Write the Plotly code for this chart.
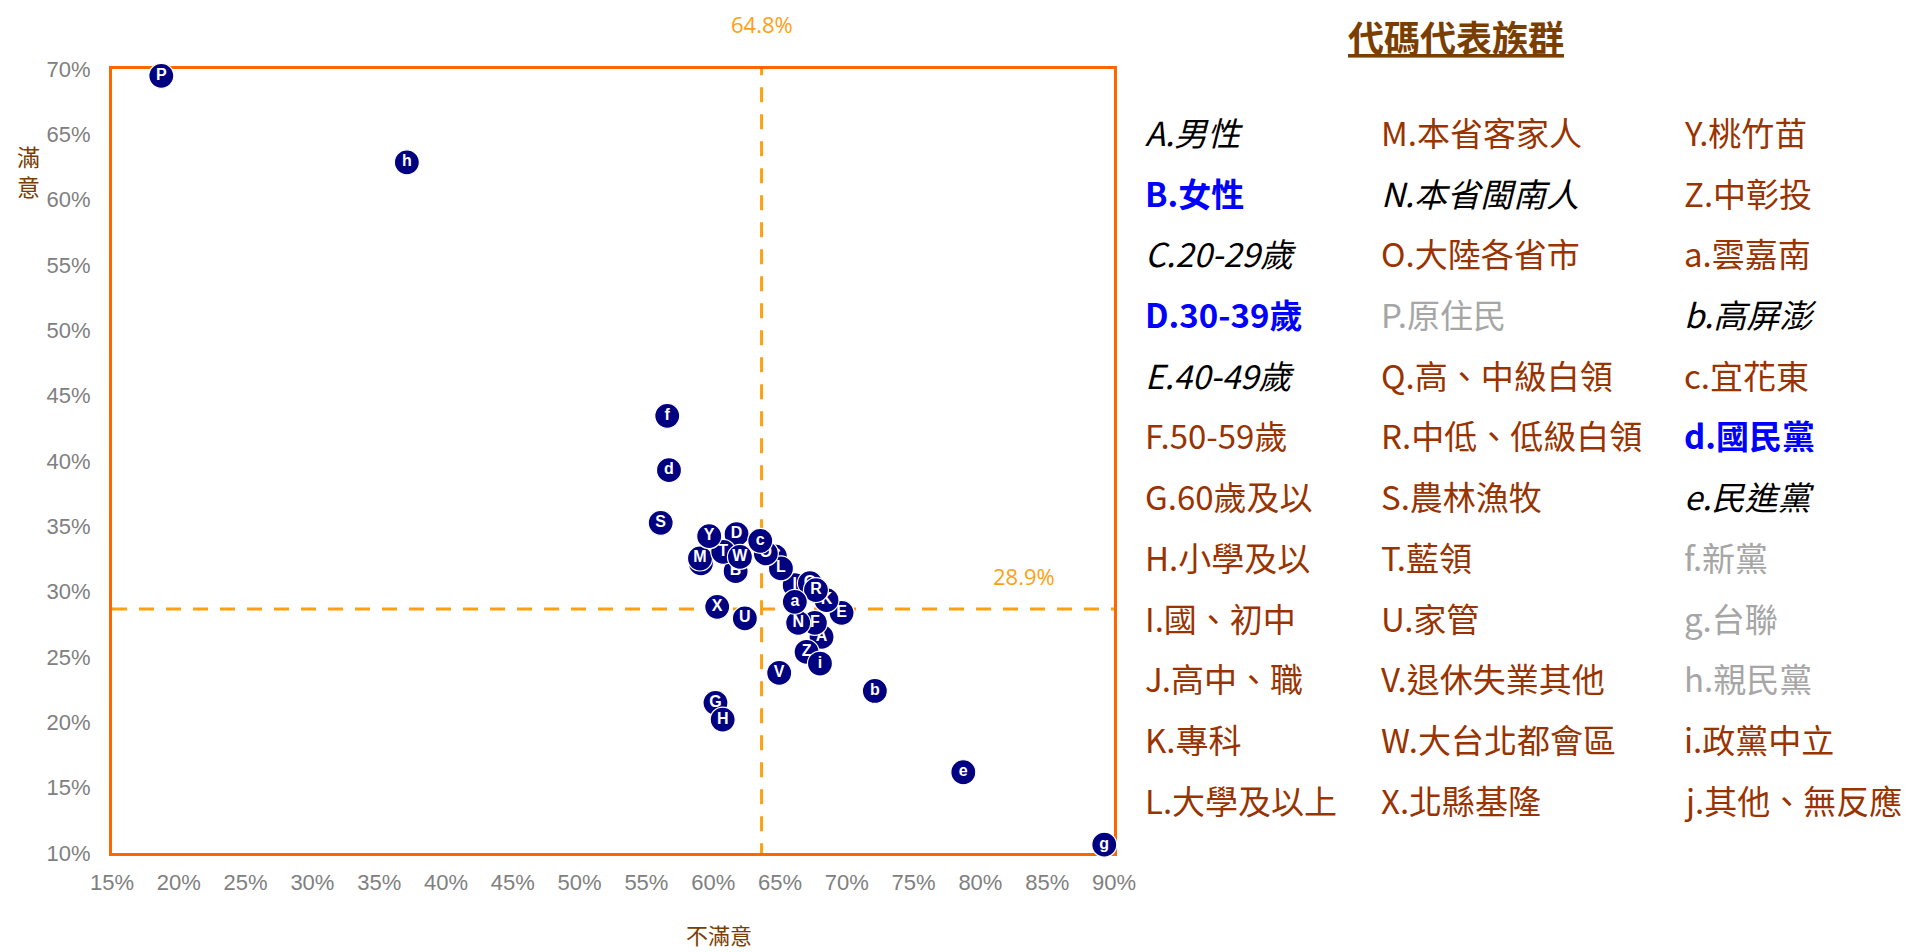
import plotly.graph_objects as go

# ---------------- data ----------------
codes = ["A", "B", "C", "D", "E", "F", "G", "H", "I", "J", "K", "L", "M",
         "N", "O", "P", "Q", "R", "S", "T", "U", "V", "W", "X", "Y", "Z",
         "a", "b", "c", "d", "e", "f", "g", "h", "i"]
dissatisfied = [68.11, 61.68, 64.62, 61.75, 69.61, 67.61, 60.17, 60.71, 66.10, 59.08, 68.48, 65.07, 59.01,
                66.36, 63.94, 18.69, 67.24, 67.69, 56.07, 60.75, 62.37, 64.94, 62.00, 60.30, 59.70, 66.99,
                66.11, 72.10, 63.52, 56.69, 78.72, 56.56, 89.27, 37.07, 67.99]
satisfied = [26.54, 31.57, 32.70, 34.40, 28.38, 27.61, 21.49, 20.21, 30.50, 32.16, 29.35, 31.78, 32.54,
             27.61, 32.93, 69.48, 30.65, 30.12, 35.27, 33.05, 27.95, 23.78, 32.66, 28.84, 34.25, 25.39,
             29.22, 22.40, 33.89, 39.30, 16.18, 43.46, 10.64, 62.86, 24.50]

ref_x = 63.62          # position of vertical reference line
ref_x_label = "64.8%"
ref_y = 28.68          # position of horizontal reference line
ref_y_label = "28.9%"

x_range = [15, 90]
y_range = [10, 70]
x_ticks = list(range(15, 91, 5))
y_ticks = list(range(10, 71, 5))
x_tick_labels = [f"{v}%" for v in x_ticks]
y_tick_labels = [f"{v}%" for v in y_ticks]

legend_title = "代碼代表族群"
legend_col1 = ["A.男性", "B.女性", "C.20-29歲", "D.30-39歲", "E.40-49歲", "F.50-59歲",
               "G.60歲及以", "H.小學及以", "I.國、初中", "J.高中、職", "K.專科", "L.大學及以上"]
legend_col2 = ["M.本省客家人", "N.本省閩南人", "O.大陸各省市", "P.原住民", "Q.高、中級白領", "R.中低、低級白領",
               "S.農林漁牧", "T.藍領", "U.家管", "V.退休失業其他", "W.大台北都會區", "X.北縣基隆"]
legend_col3 = ["Y.桃竹苗", "Z.中彰投", "a.雲嘉南", "b.高屏澎", "c.宜花東", "d.國民黨",
               "e.民進黨", "f.新黨", "g.台聯", "h.親民黨", "i.政黨中立", "j.其他、無反應"]
# style key per legend entry: k = black italic, u = blue bold, r = brown, g = gray
legend_style1 = ["k", "u", "k", "u", "k", "r", "r", "r", "r", "r", "r", "r"]
legend_style2 = ["r", "k", "r", "g", "r", "r", "r", "r", "r", "r", "r", "r"]
legend_style3 = ["r", "r", "r", "k", "r", "u", "k", "g", "g", "g", "r", "r"]

# ---------------- layout constants ----------------
OFF = 8                      # page body margin
W, H = 1917 - 2 * OFF, 952 - OFF
PL, PR, PT, PB = 112 - OFF, 1114 - OFF, 69 - OFF, 853 - OFF   # plot area in figure pixels
FRAME = "#FF6600"
REF = "#FFA010"
NAVY = "#000080"
BROWN = "#993300"
DARKBROWN = "#7A3E00"
GRAY_TXT = "#808080"
CJK = "Noto Sans CJK TC"


def px_x(X):
    """screen pixel -> paper x"""
    return (X - OFF - PL) / (PR - PL)


def px_y(Y):
    """screen pixel -> paper y"""
    return (PB - (Y - OFF)) / (PB - PT)


fig = go.Figure()

# reference lines
fig.add_trace(go.Scatter(x=[ref_x, ref_x], y=[y_range[0] - 0.4, y_range[1]], mode="lines",
                         line=dict(color=REF, width=3, dash="15px,12px"),
                         hoverinfo="skip", showlegend=False, cliponaxis=False))
fig.add_trace(go.Scatter(x=[x_range[0], x_range[1]], y=[ref_y, ref_y], mode="lines",
                         line=dict(color=REF, width=3, dash="15px,12px"),
                         hoverinfo="skip", showlegend=False, cliponaxis=False))

# points, each as own trace so later ones overlap earlier ones
for c, xv, yv in zip(codes, dissatisfied, satisfied):
    fig.add_trace(go.Scatter(
        x=[xv], y=[yv], mode="markers+text", text=[c], textposition="middle center",
        marker=dict(size=25, color=NAVY, line=dict(color="white", width=1.2)),
        textfont=dict(family="Liberation Sans", size=16, color="white", weight="bold"),
        showlegend=False, cliponaxis=False,
        hovertemplate=c + ": %{x:.1f}%, %{y:.1f}%<extra></extra>"))

annotations = []
# reference labels
annotations.append(dict(x=ref_x, xref="x", y=px_y(24), yref="paper", xanchor="center", yanchor="middle",
                        text=ref_x_label, showarrow=False,
                        font=dict(family="Open Sans", size=22, color=REF)))
annotations.append(dict(x=px_x(1024), xref="paper", y=px_y(576), yref="paper",
                        xanchor="center", yanchor="middle", text=ref_y_label,
                        showarrow=False, font=dict(family="Open Sans", size=22, color=REF)))
# axis titles
annotations.append(dict(x=px_x(28), xref="paper", y=px_y(171), yref="paper", text="滿<br>意",
                        xanchor="center", yanchor="middle", showarrow=False, align="center",
                        font=dict(family=CJK, size=23, color=DARKBROWN)))
annotations.append(dict(x=px_x(719), xref="paper", y=px_y(934), yref="paper", text="不滿意",
                        xanchor="center", yanchor="middle", showarrow=False,
                        font=dict(family=CJK, size=22, color=DARKBROWN)))
# legend title
annotations.append(dict(x=px_x(1456), xref="paper", y=px_y(36), yref="paper",
                        xanchor="center", yanchor="middle",
                        text="<b><u>" + legend_title + "</u></b>", showarrow=False,
                        font=dict(family=CJK, size=36, color=DARKBROWN)))

style_map = {
    "k": ("#000000", "<i>", "</i>"),
    "u": ("#0000FF", "<b>", "</b>"),
    "r": (BROWN, "", ""),
    "g": ("#A6A6A6", "", ""),
}
col_x = [1143, 1379, 1682]
row_y0, row_dy = 132, 60.7
for ci, (col, sty) in enumerate([(legend_col1, legend_style1),
                                 (legend_col2, legend_style2),
                                 (legend_col3, legend_style3)]):
    for ri, (txt, s) in enumerate(zip(col, sty)):
        color, o, cl = style_map[s]
        annotations.append(dict(x=px_x(col_x[ci]), xref="paper", xanchor="left",
                                y=px_y(row_y0 + ri * row_dy), yref="paper", yanchor="middle",
                                text=o + txt + cl, showarrow=False,
                                font=dict(family=CJK, size=33, color=color)))

axis_common = dict(showgrid=False, zeroline=False, showline=True, mirror=True,
                   linecolor=FRAME, linewidth=3, ticks="",
                   tickfont=dict(family="Liberation Sans", size=22, color=GRAY_TXT),
                   layer="below traces")

fig.update_layout(
    width=W, height=H,
    margin=dict(l=PL, r=W - PR, t=PT, b=H - PB, pad=0),
    paper_bgcolor="white", plot_bgcolor="white",
    xaxis=dict(range=x_range, tickmode="array", tickvals=x_ticks, ticktext=x_tick_labels,
               ticklabelstandoff=8, **axis_common),
    yaxis=dict(range=y_range, tickmode="array", tickvals=y_ticks, ticktext=y_tick_labels,
               ticklabelstandoff=14, **axis_common),
    annotations=annotations,
    showlegend=False,
)

fig.write_html("out.html")
